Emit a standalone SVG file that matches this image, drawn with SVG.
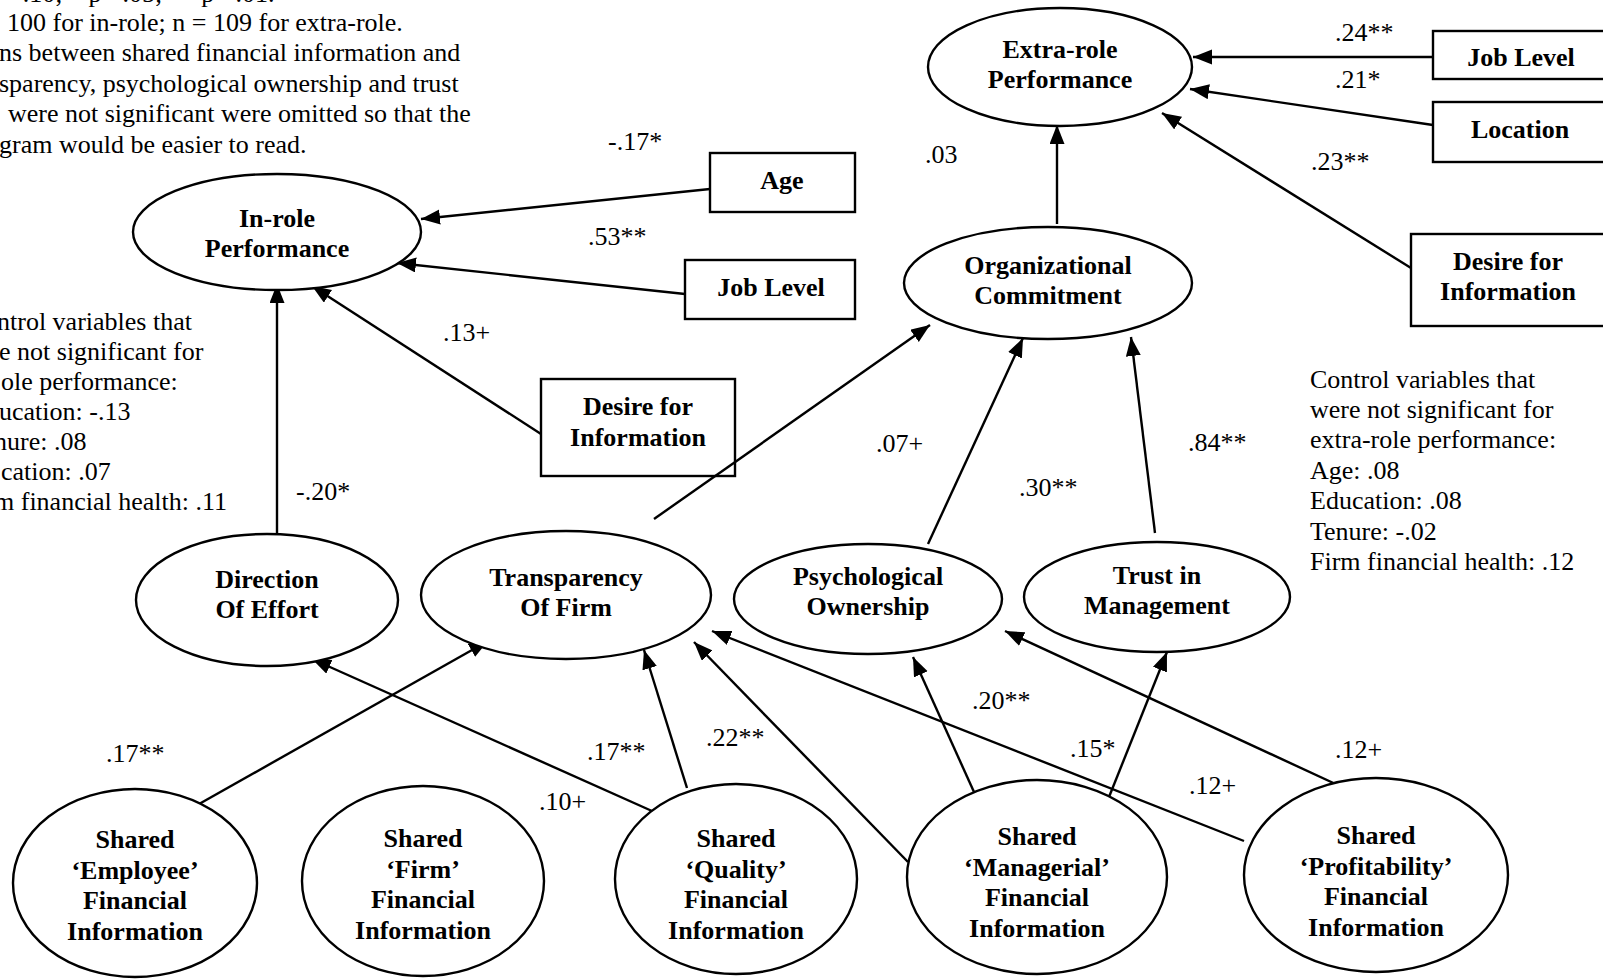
<svg xmlns="http://www.w3.org/2000/svg" width="1603" height="979" viewBox="0 0 1603 979">
  <defs>
    <marker id="arrow" markerUnits="userSpaceOnUse" markerWidth="20" markerHeight="16" refX="19" refY="7.5" orient="auto">
      <path d="M0,0 L19,7.5 L0,15 z" fill="#000"/>
    </marker>
    <style>
      .bg { fill: #fff; }
      .node ellipse { fill: #fff; stroke: #000; stroke-width: 2.4; }
      .node rect { fill: none; stroke: #000; stroke-width: 2.4; }
      .lbl { font-family: "Liberation Serif", "Times New Roman", serif; font-weight: bold; font-size: 26px; fill: #000; text-anchor: middle; }
      .note { font-family: "Liberation Serif", "Times New Roman", serif; font-size: 26px; fill: #000; }
      .coef { font-family: "Liberation Serif", "Times New Roman", serif; font-size: 26px; fill: #000; }
      .edge { stroke: #000; stroke-width: 2.4; fill: none; marker-end: url(#arrow); }
    </style>
  </defs>

  <rect class="bg" x="0" y="0" width="1603" height="979"/>

  <!-- notes -->
  <g id="notes-top">
    <text class="note" x="8" y="2">&lt;.10;  * p &lt;.05;  ** p &lt;.01.</text>
    <text class="note" x="7" y="31">100 for in-role; n = 109 for extra-role.</text>
    <text class="note" x="-1" y="61">ns between shared financial information and</text>
    <text class="note" x="-1" y="92">sparency, psychological ownership and trust</text>
    <text class="note" x="8" y="122">were not significant were omitted so that the</text>
    <text class="note" x="-1" y="153">gram would be easier to read.</text>
  </g>
  <g id="notes-inrole">
    <text class="note" x="-3" y="330">ntrol variables that</text>
    <text class="note" x="-1" y="360">e not significant for</text>
    <text class="note" x="1" y="390">ole performance:</text>
    <text class="note" x="-1" y="420">ucation: -.13</text>
    <text class="note" x="-6" y="450">nure: .08</text>
    <text class="note" x="1" y="480">cation: .07</text>
    <text class="note" x="-6" y="510">m financial health: .11</text>
  </g>
  <g id="notes-extrarole">
    <text class="note" x="1310" y="388">Control variables that</text>
    <text class="note" x="1310" y="418">were not significant for</text>
    <text class="note" x="1310" y="448">extra-role performance:</text>
    <text class="note" x="1310" y="479">Age: .08</text>
    <text class="note" x="1310" y="509">Education: .08</text>
    <text class="note" x="1310" y="540">Tenure: -.02</text>
    <text class="note" x="1310" y="570">Firm financial health: .12</text>
  </g>

  <!-- connectors -->
  <g id="connectors">
    <line class="edge" x1="710" y1="189" x2="421" y2="219"/>
    <line class="edge" x1="685" y1="294" x2="397" y2="263"/>
    <line class="edge" x1="541" y1="434" x2="312" y2="286"/>
    <line class="edge" x1="277" y1="533" x2="277" y2="284"/>
    <line class="edge" x1="654" y1="519" x2="930" y2="325"/>
    <line class="edge" x1="928" y1="544" x2="1023" y2="338"/>
    <line class="edge" x1="1155" y1="533" x2="1131" y2="337"/>
    <line class="edge" x1="1057" y1="224" x2="1057" y2="125"/>
    <line class="edge" x1="1433" y1="57" x2="1193" y2="57"/>
    <line class="edge" x1="1433" y1="125" x2="1190" y2="89"/>
    <line class="edge" x1="1411" y1="268" x2="1162" y2="113"/>
    <line class="edge" x1="192" y1="808" x2="488" y2="641"/>
    <line class="edge" x1="652" y1="811" x2="312" y2="659"/>
    <line class="edge" x1="687" y1="788" x2="644" y2="650"/>
    <line class="edge" x1="908" y1="862" x2="694" y2="642"/>
    <line class="edge" x1="1244" y1="841" x2="712" y2="631"/>
    <line class="edge" x1="974" y1="792" x2="913" y2="657"/>
    <line class="edge" x1="1109" y1="797" x2="1167" y2="652"/>
    <line class="edge" x1="1342" y1="787" x2="1005" y2="631"/>

    <text class="coef" x="608" y="150">-.17*</text>
    <text class="coef" x="588" y="245">.53**</text>
    <text class="coef" x="443" y="341">.13+</text>
    <text class="coef" x="296" y="500">-.20*</text>
    <text class="coef" x="925" y="163">.03</text>
    <text class="coef" x="1335" y="41">.24**</text>
    <text class="coef" x="1335" y="88">.21*</text>
    <text class="coef" x="1311" y="170">.23**</text>
    <text class="coef" x="876" y="452">.07+</text>
    <text class="coef" x="1019" y="496">.30**</text>
    <text class="coef" x="1188" y="451">.84**</text>
    <text class="coef" x="106" y="762">.17**</text>
    <text class="coef" x="539" y="810">.10+</text>
    <text class="coef" x="587" y="760">.17**</text>
    <text class="coef" x="706" y="746">.22**</text>
    <text class="coef" x="972" y="709">.20**</text>
    <text class="coef" x="1070" y="757">.15*</text>
    <text class="coef" x="1189" y="794">.12+</text>
    <text class="coef" x="1335" y="758">.12+</text>
  </g>

  <!-- outcome and mediator constructs -->
  <g id="extra-role" class="node">
    <ellipse cx="1060" cy="67" rx="132" ry="59"/>
    <text class="lbl" x="1060" y="58">Extra-role</text>
    <text class="lbl" x="1060" y="88">Performance</text>
  </g>
  <g id="org-commitment" class="node">
    <ellipse cx="1048" cy="283" rx="144" ry="56"/>
    <text class="lbl" x="1048" y="274">Organizational</text>
    <text class="lbl" x="1048" y="304">Commitment</text>
  </g>
  <g id="in-role" class="node">
    <ellipse cx="277" cy="232" rx="144" ry="58"/>
    <text class="lbl" x="277" y="227">In-role</text>
    <text class="lbl" x="277" y="257">Performance</text>
  </g>
  <g id="direction-effort" class="node">
    <ellipse cx="267" cy="600" rx="131" ry="66"/>
    <text class="lbl" x="267" y="588">Direction</text>
    <text class="lbl" x="267" y="618">Of Effort</text>
  </g>
  <g id="transparency" class="node">
    <ellipse cx="566" cy="595" rx="145" ry="64"/>
    <text class="lbl" x="566" y="586">Transparency</text>
    <text class="lbl" x="566" y="616">Of Firm</text>
  </g>
  <g id="psych-ownership" class="node">
    <ellipse cx="868" cy="599" rx="134" ry="55"/>
    <text class="lbl" x="868" y="585">Psychological</text>
    <text class="lbl" x="868" y="615">Ownership</text>
  </g>
  <g id="trust-management" class="node">
    <ellipse cx="1157" cy="597" rx="133" ry="55"/>
    <text class="lbl" x="1157" y="584">Trust in</text>
    <text class="lbl" x="1157" y="614">Management</text>
  </g>

  <!-- control variables -->
  <g id="age" class="node">
    <rect x="710" y="153" width="145" height="59"/>
    <text class="lbl" x="782" y="189">Age</text>
  </g>
  <g id="job-level-inrole" class="node">
    <rect x="685" y="260" width="170" height="59"/>
    <text class="lbl" x="771" y="296">Job Level</text>
  </g>
  <g id="desire-info-inrole" class="node">
    <rect x="541" y="379" width="194" height="97"/>
    <text class="lbl" x="638" y="415">Desire for</text>
    <text class="lbl" x="638" y="446">Information</text>
  </g>
  <g id="job-level-extrarole" class="node">
    <rect x="1433" y="31" width="180" height="48"/>
    <text class="lbl" x="1521" y="66">Job Level</text>
  </g>
  <g id="location" class="node">
    <rect x="1433" y="102" width="180" height="60"/>
    <text class="lbl" x="1520" y="138">Location</text>
  </g>
  <g id="desire-info-extrarole" class="node">
    <rect x="1411" y="234" width="202" height="92"/>
    <text class="lbl" x="1508" y="270">Desire for</text>
    <text class="lbl" x="1508" y="300">Information</text>
  </g>

  <!-- shared financial information constructs -->
  <g id="shared-employee" class="node">
    <ellipse cx="135" cy="883" rx="122" ry="94"/>
    <text class="lbl" x="135" y="848">Shared</text>
    <text class="lbl" x="135" y="879">‘Employee’</text>
    <text class="lbl" x="135" y="909">Financial</text>
    <text class="lbl" x="135" y="940">Information</text>
  </g>
  <g id="shared-firm" class="node">
    <ellipse cx="423" cy="881" rx="121" ry="95"/>
    <text class="lbl" x="423" y="847">Shared</text>
    <text class="lbl" x="423" y="878">‘Firm’</text>
    <text class="lbl" x="423" y="908">Financial</text>
    <text class="lbl" x="423" y="939">Information</text>
  </g>
  <g id="shared-quality" class="node">
    <ellipse cx="736" cy="879" rx="121" ry="95"/>
    <text class="lbl" x="736" y="847">Shared</text>
    <text class="lbl" x="736" y="878">‘Quality’</text>
    <text class="lbl" x="736" y="908">Financial</text>
    <text class="lbl" x="736" y="939">Information</text>
  </g>
  <g id="shared-managerial" class="node">
    <ellipse cx="1037" cy="877" rx="130" ry="97"/>
    <text class="lbl" x="1037" y="845">Shared</text>
    <text class="lbl" x="1037" y="876">‘Managerial’</text>
    <text class="lbl" x="1037" y="906">Financial</text>
    <text class="lbl" x="1037" y="937">Information</text>
  </g>
  <g id="shared-profitability" class="node">
    <ellipse cx="1376" cy="875" rx="132" ry="97"/>
    <text class="lbl" x="1376" y="844">Shared</text>
    <text class="lbl" x="1376" y="875">‘Profitability’</text>
    <text class="lbl" x="1376" y="905">Financial</text>
    <text class="lbl" x="1376" y="936">Information</text>
  </g>
</svg>
